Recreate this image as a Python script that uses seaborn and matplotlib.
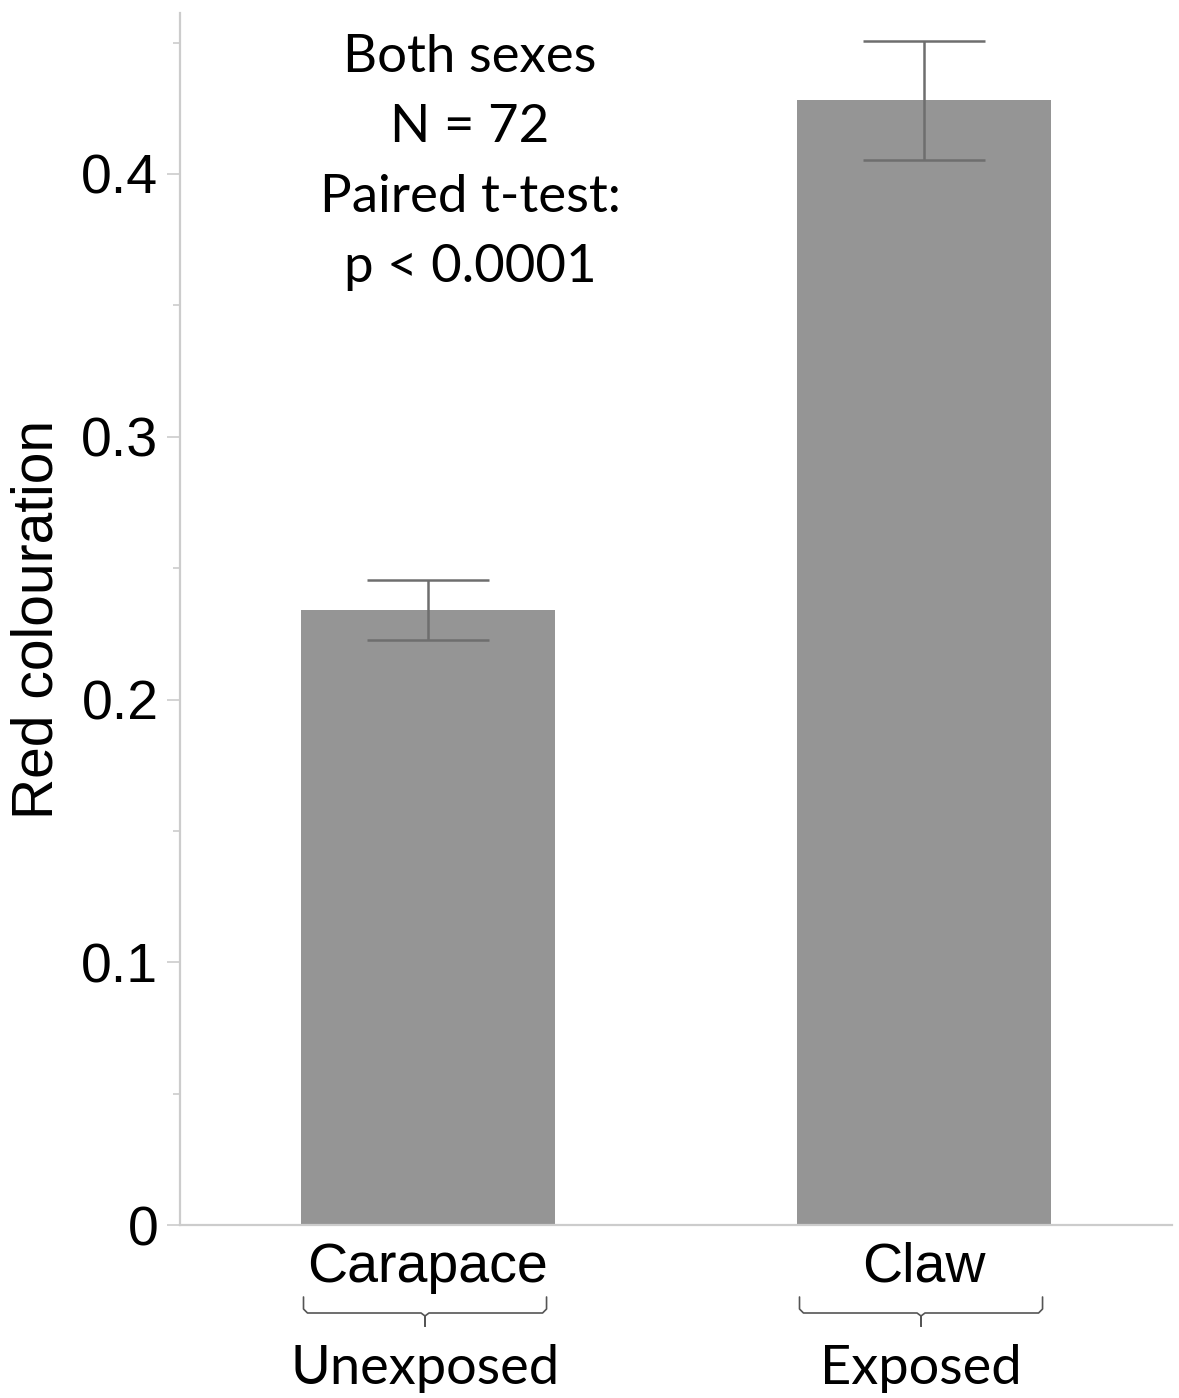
import matplotlib
matplotlib.use("Agg")
import matplotlib.pyplot as plt
import seaborn as sns
import pandas as pd
import numpy as np
from matplotlib.ticker import MultipleLocator
from matplotlib.transforms import blended_transform_factory

# ---- data ----
categories = ["Carapace", "Claw"]
groups = ["Unexposed", "Exposed"]
means = [0.234, 0.428]
errors = [0.0113, 0.0228]
annotation_lines = ["Both sexes", "N = 72", "Paired t-test:", "p < 0.0001"]
ytick_values = [0, 0.1, 0.2, 0.3, 0.4]
ytick_labels = ["0", "0.1", "0.2", "0.3", "0.4"]

sns.set_style("white")
plt.rcParams['font.family'] = ['Liberation Sans', 'DejaVu Sans']
plt.rcParams['text.color'] = 'black'
plt.rcParams['axes.labelcolor'] = 'black'
plt.rcParams['xtick.color'] = 'black'
plt.rcParams['ytick.color'] = 'black'

W, H = 1179, 1398
fig = plt.figure(figsize=(W / 100, H / 100), dpi=100)
ax = fig.add_axes([180 / W, 1 - 1225 / H, (1172 - 180) / W, (1225 - 13) / H])

df = pd.DataFrame({"part": categories, "value": means})
sns.barplot(data=df, x="part", y="value", color="#959595", saturation=1,
            width=0.514, errorbar=None, ax=ax, edgecolor="none")
ax.errorbar(np.arange(len(categories)), means, yerr=errors, fmt="none",
            ecolor="#6e6e6e", elinewidth=1.8, capsize=44, capthick=1.8, zorder=5)

ax.set_xlim(-0.5, 1.5)
ax.set_ylim(0, (1225 - 13) / 2627.5)
ax.set_yticks(ytick_values)
ax.set_yticklabels(ytick_labels)
ax.yaxis.set_minor_locator(MultipleLocator(0.05))

spine_c = "#cccccc"
for s in ["top", "right"]:
    ax.spines[s].set_visible(False)
for s in ["left", "bottom"]:
    ax.spines[s].set_color(spine_c)
    ax.spines[s].set_linewidth(1.6)

ax.tick_params(axis="y", which="major", length=9.5, width=1.2, color=spine_c,
               labelcolor="black", labelsize=40, pad=6, left=True)
ax.tick_params(axis="y", which="minor", length=5, width=1.2, color=spine_c, left=True)
ax.tick_params(axis="x", length=0, labelsize=40, pad=12, labelcolor="black")
ax.set_xlabel("")
ax.set_ylabel("Red colouration", fontsize=41, labelpad=12, color="black")

# annotation text
ann_font = ["Lato", "DejaVu Sans"]
baselines = [72, 142, 212, 282]
for line, yb in zip(annotation_lines, baselines):
    fig.text(470 / W, 1 - yb / H, line, ha="center", va="baseline",
             fontsize=38, family=ann_font, color="black")

# braces and group labels
trans = blended_transform_factory(ax.transData, fig.transFigure)
half = 0.245
fy = lambda p: 1 - p / H
for i, g in enumerate(groups):
    xc = i - 0.006
    x0, x1 = xc - half, xc + half
    dx = 0.008
    xs = [x0, x0, x0 + dx, xc - dx, xc, xc, xc, xc + dx, x1 - dx, x1, x1]
    ys = [1297, 1309, 1313, 1313, 1316, 1326, 1316, 1313, 1313, 1309, 1297]
    ax.plot(xs, [fy(v) for v in ys], transform=trans, color="#555555",
            lw=1.2, clip_on=False, solid_joinstyle="round")
    ax.text(xc, fy(1384), g, transform=trans, ha="center", va="baseline",
            fontsize=39, family=ann_font, color="black")

fig.savefig("out.png", dpi=100, facecolor="white")
